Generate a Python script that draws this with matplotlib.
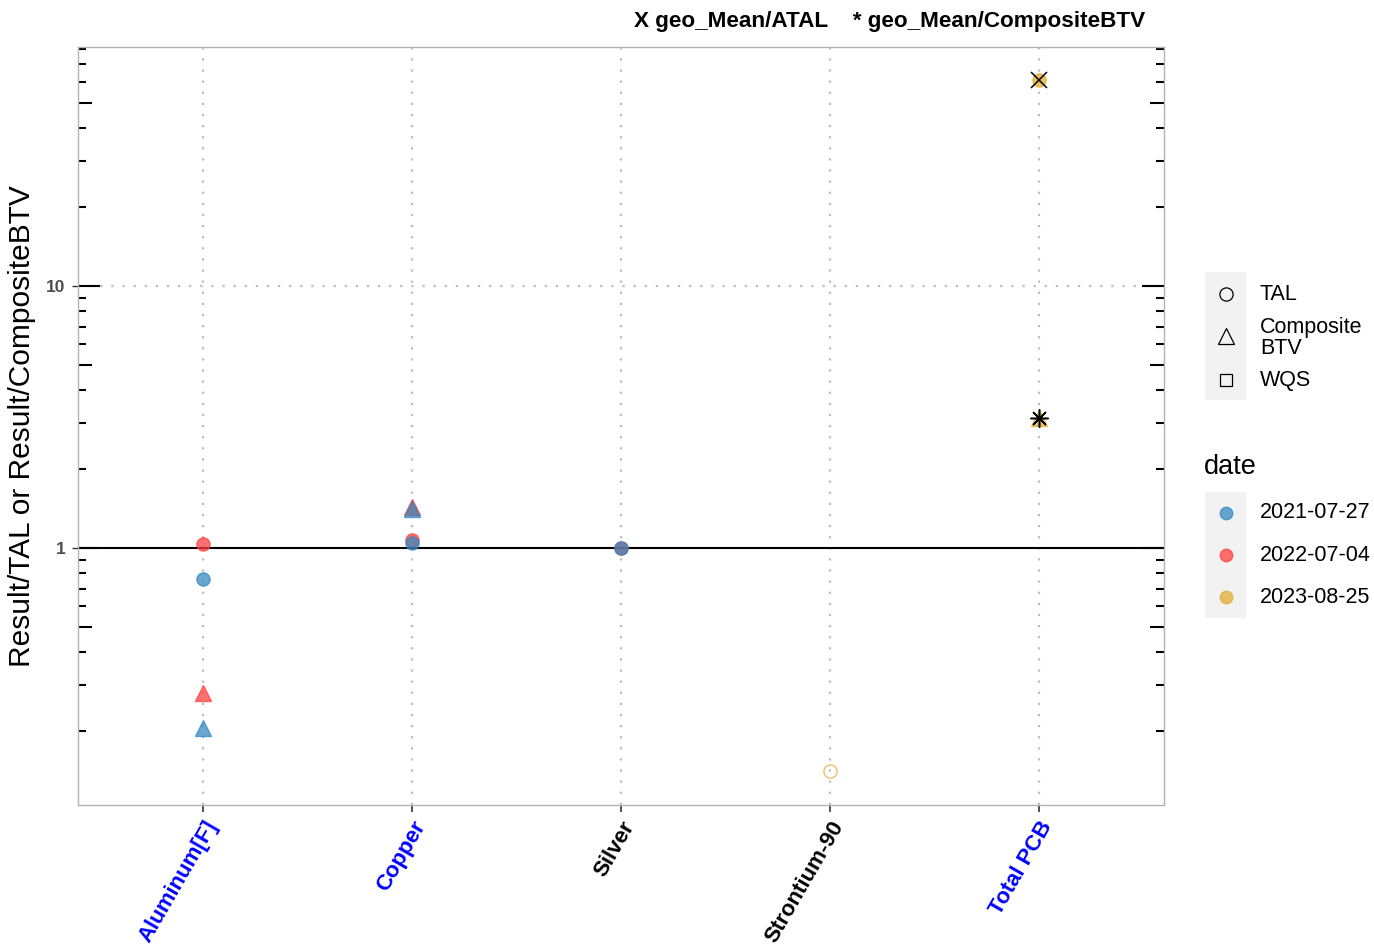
import matplotlib
matplotlib.use("Agg")
import matplotlib.pyplot as plt
from matplotlib.lines import Line2D
from matplotlib.patches import Rectangle
import numpy as np

plt.rcParams['font.family'] = ['Liberation Sans', 'DejaVu Sans']

# ---------------- data ----------------
categories = ["Aluminum[F]", "Copper", "Silver", "Strontium-90", "Total PCB"]
label_colors = ["blue", "blue", "black", "black", "blue"]

dates = ["2021-07-27", "2022-07-04", "2023-08-25"]
date_colors = ["#2F86C0", "#FF3B3B", "#E3A92E"]

shape_labels = ["TAL", "Composite\nBTV", "WQS"]
shape_markers = ["o", "^", "s"]

# points: analyte, date, type, value, filled
pt_analyte = ["Aluminum[F]", "Aluminum[F]", "Aluminum[F]", "Aluminum[F]",
              "Copper", "Copper", "Copper", "Copper",
              "Silver", "Silver",
              "Strontium-90",
              "Total PCB", "Total PCB"]
pt_date = ["2021-07-27", "2022-07-04", "2022-07-04", "2021-07-27",
           "2022-07-04", "2021-07-27", "2022-07-04", "2021-07-27",
           "2022-07-04", "2021-07-27",
           "2023-08-25",
           "2023-08-25", "2023-08-25"]
pt_type = ["TAL", "TAL", "Composite\nBTV", "Composite\nBTV",
           "TAL", "TAL", "Composite\nBTV", "Composite\nBTV",
           "TAL", "TAL",
           "TAL",
           "TAL", "Composite\nBTV"]
pt_value = [0.762, 1.036, 0.28, 0.206,
            1.073, 1.045, 1.43, 1.41,
            1.0, 1.0,
            0.141,
            61.1, 3.13]
pt_filled = [True] * 10 + [False] + [True, True]

# geometric mean overlays
gm_analyte = ["Total PCB", "Total PCB"]
gm_kind = ["ATAL", "CompositeBTV"]
gm_value = [61.1, 3.13]

y_major = [1, 10]

# ---------------- figure ----------------
W, H = 1374, 947
fig = plt.figure(figsize=(W / 100, H / 100), dpi=100)
fx = lambda px: px / W
fy = lambda py: 1 - py / H

ax = fig.add_axes([fx(78), fy(805), fx(1164) - fx(78), fy(47) - fy(805)])
ax.set_yscale("log")
ax.set_xlim(-0.6, len(categories) - 0.4)
ax.set_ylim(0.1045, 81.6)

# grid
for i in range(len(categories)):
    ax.axvline(i, color="#BDBDBD", lw=1.6, ls=(0, (1, 4)), zorder=0)
ax.axhline(10, color="#BDBDBD", lw=1.6, ls=(0, (1, 4)), zorder=0)
ax.axhline(1, color="black", lw=1.5, zorder=1)

# points
xpos = {c: i for i, c in enumerate(categories)}
dcol = dict(zip(dates, date_colors))
smark = dict(zip(shape_labels, shape_markers))
for a, d, t, v, f in zip(pt_analyte, pt_date, pt_type, pt_value, pt_filled):
    c = dcol[d]
    ax.plot(xpos[a], v, marker=smark[t], ms=11 if t != "TAL" else 9.5,
            mfc=c if f else "none", mec=c, mew=1.0, alpha=0.72,
            ls="none", zorder=3)

gm_mark = {"ATAL": "x", "CompositeBTV": (8, 2, 0)}
gm_size = {"ATAL": 11, "CompositeBTV": 13}
for a, k, v in zip(gm_analyte, gm_kind, gm_value):
    ax.plot(xpos[a], v, marker=gm_mark[k], ms=gm_size[k], mec="black", mew=1.1,
            ls="none", zorder=4)

# log ticks (annotation_logticks style) on left and right
ytr = ax.get_yaxis_transform()
for dec in [0.1, 1, 10]:
    for m in range(1, 10):
        val = dec * m
        if not (0.1045 <= val <= 81.6):
            continue
        if m == 1:
            L = 22
        elif m == 5:
            L = 14
        else:
            L = 8
        lf = L / 1086
        ax.plot([0, lf], [val, val], transform=ytr, color="black", lw=1.5,
                clip_on=False, zorder=2, solid_capstyle="butt")
        ax.plot([1 - lf, 1], [val, val], transform=ytr, color="black", lw=1.5,
                clip_on=False, zorder=2, solid_capstyle="butt")

# axes styling
for s in ax.spines.values():
    s.set_color("#B3B3B3")
    s.set_linewidth(1.0)

ax.set_yticks(y_major)
ax.set_yticklabels([str(v) for v in y_major], fontsize=12.5, fontweight="bold",
                   color="#4D4D4D")
ax.yaxis.set_minor_locator(matplotlib.ticker.NullLocator())
ax.tick_params(axis="y", length=4, width=1.0, color="#333333", pad=5)

ax.set_xticks(range(len(categories)))
ax.set_xticklabels(categories, rotation=60, ha="right", va="top",
                   rotation_mode="anchor", fontsize=16, fontweight="bold")
for lab, col in zip(ax.get_xticklabels(), label_colors):
    lab.set_color(col)
ax.tick_params(axis="x", length=5, width=1.2, color="#333333", pad=4)

# y label
fig.text(fx(22), fy(426), "Result/TAL or Result/CompositeBTV", rotation=90,
         ha="center", va="center", fontsize=21.5)

# title
fig.text(fx(890), fy(21), "X geo_Mean/ATAL    * geo_Mean/CompositeBTV",
         ha="center", va="center", fontsize=16.2, fontweight="bold")

# ---------------- legends ----------------
# shape legend
fig.patches.append(Rectangle((fx(1205), fy(400)), fx(1246) - fx(1205),
                             fy(272) - fy(400), transform=fig.transFigure,
                             facecolor="#F2F2F2", edgecolor="none"))
shape_y = [294, 336, 380]
shape_ms = [9.5, 12, 8]
for lab, mk, yy, ms in zip(shape_labels, shape_markers, shape_y, shape_ms):
    fig.add_artist(Line2D([fx(1225.5)], [fy(yy)], marker=mk, ms=ms,
                          mfc="none", mec="black", mew=0.9, ls="none",
                          transform=fig.transFigure))
    fig.text(fx(1260), fy(yy if "\n" not in lab else 338), lab, ha="left",
             va="center", fontsize=15.5, linespacing=1.05)

# date legend
fig.text(fx(1204), fy(467), "date", ha="left", va="center", fontsize=19.5)
fig.patches.append(Rectangle((fx(1205), fy(618)), fx(1246) - fx(1205),
                             fy(492) - fy(618), transform=fig.transFigure,
                             facecolor="#F2F2F2", edgecolor="none"))
date_y = [513, 555, 597]
for lab, col, yy in zip(dates, date_colors, date_y):
    fig.add_artist(Line2D([fx(1225.5)], [fy(yy)], marker="o", ms=9,
                          mfc=col, mec=col, mew=1.0, alpha=0.72, ls="none",
                          transform=fig.transFigure))
    fig.text(fx(1260), fy(yy), lab, ha="left", va="center", fontsize=15.5)

fig.savefig("out.png", dpi=100)
